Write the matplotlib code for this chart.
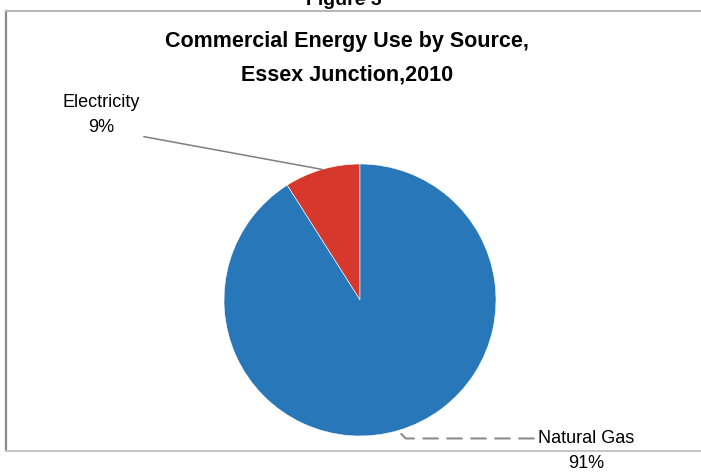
import numpy as np
import matplotlib
matplotlib.use("Agg")
import matplotlib.pyplot as plt
from matplotlib.lines import Line2D

# data
sources = ["Electricity", "Natural Gas"]
shares = [9, 91]
colors = ["#d6392c", "#2877b8"]
title_lines = ["Commercial Energy Use by Source,", "Essex Junction,2010"]
fig_caption = "Figure 3"

W, H = 701, 473
plt.rcParams["font.family"] = ["Liberation Sans", "DejaVu Sans"]

fig = plt.figure(figsize=(W / 100, H / 100), dpi=100)


def fx(px):
    return px / W


def fy(py):
    # pixel from top -> figure fraction
    return 1 - py / H


# chart frame (right edge runs off the page)
fig.add_artist(Line2D([fx(6), fx(6)], [fy(11), fy(451)], transform=fig.transFigure,
                      color="#8a8a8a", lw=1.6))
fig.add_artist(Line2D([fx(6), 1.01], [fy(11), fy(11)], transform=fig.transFigure,
                      color="#b4b4b4", lw=1.4))
fig.add_artist(Line2D([fx(6), 1.01], [fy(451), fy(451)], transform=fig.transFigure,
                      color="#c4c4c4", lw=1.4))

fig.text(fx(344), fy(5), fig_caption, ha="center", va="baseline",
         fontsize=14, fontweight="bold")
fig.text(fx(347), fy(42), title_lines[0], ha="center", va="center",
         fontsize=15.5, fontweight="bold")
fig.text(fx(347), fy(75), title_lines[1], ha="center", va="center",
         fontsize=15.5, fontweight="bold")

# pie axes: centre (360, 300), radius 136 px
r = 136
ax = fig.add_axes([fx(360 - r), fy(300 + r), 2 * r / W, 2 * r / H])
wedges, _ = ax.pie(shares, colors=colors, startangle=90, counterclock=True,
                   radius=1, wedgeprops=dict(edgecolor="white", linewidth=0.4))
ax.set_xlim(-1, 1)
ax.set_ylim(-1, 1)
ax.set_aspect("equal")
ax.axis("off")

labels = ["%s\n%d%%" % (s, v) for s, v in zip(sources, shares)]
label_pos = [(101, 115), (586, 451)]

for i, w in enumerate(wedges):
    mid = np.deg2rad((w.theta1 + w.theta2) / 2)
    xy = (np.cos(mid), np.sin(mid))
    if i == 0:
        arrow = dict(arrowstyle="-", color="#7f7f7f", lw=1.1,
                     relpos=(1.0, 0.0), shrinkA=1, shrinkB=0)
    else:
        arrow = dict(arrowstyle="-", color="#8c8c8c", lw=1.5,
                     linestyle=(0, (7, 4.5)), relpos=(0.0, 0.8),
                     connectionstyle="angle,angleA=0,angleB=-45,rad=0",
                     shrinkA=1, shrinkB=0)
    ax.annotate(labels[i], xy=xy, xycoords="data",
                xytext=(fx(label_pos[i][0]), fy(label_pos[i][1])),
                textcoords="figure fraction", ha="center", va="center",
                fontsize=13, linespacing=1.6, arrowprops=arrow,
                annotation_clip=False)

fig.savefig("out.png", dpi=100)
